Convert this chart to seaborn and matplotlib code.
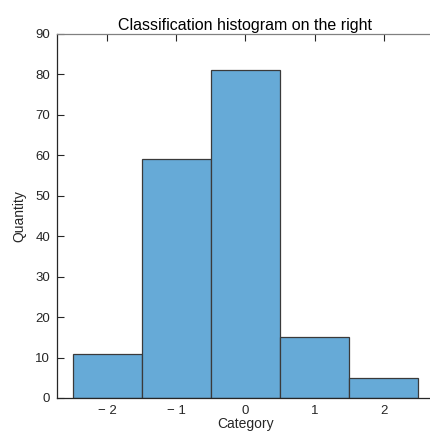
import matplotlib
matplotlib.use("Agg")
import matplotlib.pyplot as plt
import seaborn as sns

categories = [-2, -1, 0, 1, 2]
counts = [11, 59, 81, 15, 5]
tick_labels = ["\u2212 2", "\u2212 1", "0", "1", "2"]
y_ticks = [0, 10, 20, 30, 40, 50, 60, 70, 80, 90]

sns.set_style("ticks")
plt.rcParams["font.family"] = ["Liberation Sans", "DejaVu Sans"]

fig = plt.figure(figsize=(4.3, 4.34), dpi=100)
ax = fig.add_axes([57 / 430, 1 - 398 / 434, 377 / 430, 364 / 434])

sns.histplot(x=categories, weights=counts, discrete=True, ax=ax,
             color="#66AAD7", alpha=1.0, edgecolor="#3a3a3a", linewidth=0.9)

ax.set_xlim(-2.73, 2.73)
ax.set_ylim(0, 90)
ax.set_xticks(categories)
ax.set_xticklabels(tick_labels)
ax.set_yticks(y_ticks)

ax.tick_params(direction="in", length=5, width=0.8, labelsize=9.5,
               colors="#262626", top=True, right=False)
ax.tick_params(axis="x", pad=5)
ax.tick_params(axis="y", pad=5)
ax.spines["right"].set_visible(False)
ax.spines["top"].set_color("#808080")
ax.spines["left"].set_color("#262626")
ax.spines["bottom"].set_color("#262626")
for s in ax.spines.values():
    s.set_linewidth(0.9)

ax.set_title("Classification histogram on the right", fontsize=11.5, pad=3, color="black")
ax.set_xlabel("Category", fontsize=10, labelpad=0, color="#262626")
ax.set_ylabel("Quantity", fontsize=10, labelpad=6, color="#262626")

fig.savefig("out.png", dpi=100, facecolor="white")
